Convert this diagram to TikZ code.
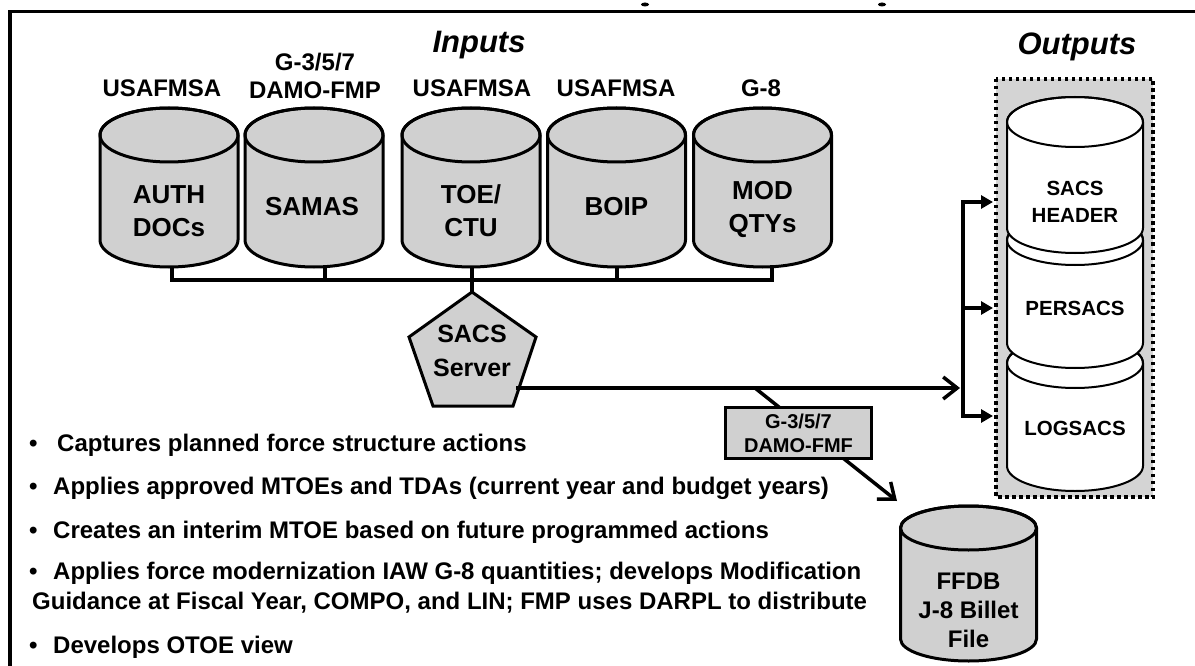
\documentclass[tikz,border=0pt]{standalone}
\usepackage{fontspec}
\setmainfont{Liberation Sans}
\usetikzlibrary{arrows.meta}
\definecolor{dbgray}{RGB}{208,208,208}
\definecolor{boxgray}{RGB}{212,212,212}
% #1 cx, #2 ytop, #3 ybot, #4 rx, #5 ry, #6 style
\newcommand\dbcyl[6]{%
  \path[#6] ({#1-#4},{#2+#5}) -- ({#1-#4},{#3-#5})
     arc[start angle=180,end angle=0,x radius=#4,y radius=#5]
     -- ({#1+#4},{#2+#5})
     arc[start angle=0,end angle=-180,x radius=#4,y radius=#5] -- cycle;
  \draw[#6,fill=none] (#1,{#2+#5}) ellipse[x radius=#4,y radius=#5];
}
\begin{document}
\begin{tikzpicture}[x=1pt,y=-1pt,
  conn/.style={line width=3.5pt, line join=miter},
  incyl/.style={draw=black, fill=dbgray, line width=3pt},
  outcyl/.style={draw=black, fill=white, line width=2pt},
  toplbl/.style={font=\fontsize{24}{28}\selectfont\bfseries, inner sep=0pt, align=center},
  cyltxt/.style={font=\fontsize{26}{33}\selectfont\bfseries, inner sep=0pt, align=center},
  outtxt/.style={font=\fontsize{20.5}{27}\selectfont\bfseries, inner sep=0pt, align=center},
  ttl/.style={font=\fontsize{31}{36}\selectfont\bfseries\itshape, inner sep=0pt, anchor=base},
  blt/.style={font=\fontsize{24}{28}\selectfont\bfseries, inner sep=0pt, anchor=base west},
  openarrow/.style={-{Straight Barb[length=14pt,width=22pt]}},
  fillarrow/.style={-{Triangle[length=12pt,width=13pt]}},
]
\useasboundingbox (0,0) rectangle (1195,666);
% frame (cropped)
\draw[line width=3.5pt, line join=miter] (10,680) -- (10,11.5) -- (1210,11.5);
\fill (645,4.5) ellipse[x radius=4, y radius=2];
\fill (882,4.5) ellipse[x radius=4, y radius=2];

% titles
\node[ttl] (inputs) at (479,53) {Inputs};
\node[ttl] (outputs) at (1077,55) {Outputs};

% source labels
\node[toplbl] (l1) at (162,88) {USAFMSA};
\node[toplbl] (l2) at (315,76) {G-3/5/7\\DAMO-FMP};
\node[toplbl] (l3) at (472,88) {USAFMSA};
\node[toplbl] (l4) at (616,88) {USAFMSA};
\node[toplbl] (l5) at (761,88) {G-8};

% input cylinders
\dbcyl{169}{108}{267}{69}{27}{incyl}
\dbcyl{314}{108}{267}{69}{27}{incyl}
\dbcyl{471}{108}{267}{69}{27}{incyl}
\dbcyl{616.5}{108}{267}{69}{27}{incyl}
\dbcyl{762.5}{108}{267}{69}{27}{incyl}
\node[cyltxt] (auth) at (169,211) {AUTH\\DOCs};
\node[cyltxt] (samas) at (312,207) {SAMAS};
\node[cyltxt] (toe) at (471,211) {TOE/\\CTU};
\node[cyltxt] (boip) at (616.5,207) {BOIP};
\node[cyltxt] (mod) at (762.5,209) {MOD\\QTYs};

\coordinate (authB) at (172,266);
\coordinate (samasB) at (325,265);
\coordinate (toeB) at (472,267);
\coordinate (boipB) at (617,267);
\coordinate (modB) at (772,265);
\coordinate (bus) at (0,280);
\coordinate (srvTop) at (472,292);

% server
\draw[line width=3pt, fill=dbgray, line join=miter] (srvTop) -- (536,337) -- (513,406) -- (433,406) -- (409,337) -- cycle;
\node[font=\fontsize{25}{34}\selectfont\bfseries, inner sep=0pt, align=center] (server) at (472,351) {SACS\\Server};

\draw[conn] (authB) -- (authB |- bus) -| (modB);
\draw[conn] (samasB) -- (samasB |- bus);
\draw[conn] (boipB) -- (boipB |- bus);
\draw[conn] (toeB) -- (srvTop);

% main flow
\coordinate (srvR) at (516,388);
\coordinate (outJoin) at (960,388);
\coordinate (split) at (755,388);
\coordinate (ffdbIn) at (897,501);
\draw[conn, openarrow] (srvR) -- (outJoin);
\draw[conn, openarrow] (split) -- (ffdbIn);
\node[draw, fill=dbgray, line width=3pt, minimum width=146pt, minimum height=51pt, inner sep=0pt,
      font=\fontsize{20}{24}\selectfont\bfseries, align=center] (fmf) at (798.5,433) {G-3/5/7\\DAMO-FMF};

% outputs box
\draw[line width=3.5pt, dash pattern=on 3.5pt off 3.5pt, fill=boxgray] (996,79) rectangle (1153,497);
\dbcyl{1075}{338}{491}{68}{25}{outcyl}
\dbcyl{1075}{215}{368}{68}{25}{outcyl}
\dbcyl{1075}{97}{253}{68}{25}{outcyl}
\node[outtxt] (hdr) at (1075,201.5) {SACS\\HEADER};
\node[outtxt] (pers) at (1075,308) {PERSACS};
\node[outtxt] (logs) at (1075,428) {LOGSACS};

\coordinate (busTop) at (963,202);
\coordinate (busBot) at (963,416);
\coordinate (hdrIn) at (993,202);
\coordinate (persIn) at (993,308);
\coordinate (logIn) at (993,416);
\draw[conn, {Triangle[length=12pt,width=13pt]}-{Triangle[length=12pt,width=13pt]}] (hdrIn) -- (busTop) -- (busBot) -- (logIn);
\draw[conn, fillarrow] (busTop |- persIn) -- (persIn);

% FFDB
\dbcyl{968.5}{506}{661}{68}{22}{incyl}
\node[font=\fontsize{24}{29}\selectfont\bfseries, inner sep=0pt, align=center] (ffdb) at (968.5,610) {FFDB\\J-8 Billet\\File};

% bullets
\node[blt] (b1) at (29,451) {\makebox[28pt][l]{\textbullet}Captures planned force structure actions};
\node[blt] (b2) at (29,494) {\makebox[24pt][l]{\textbullet}Applies approved MTOEs and TDAs (current year and budget years)};
\node[blt] (b3) at (29,538) {\makebox[24pt][l]{\textbullet}Creates an interim MTOE based on future programmed actions};
\node[blt] (b4) at (29,579) {\makebox[24pt][l]{\textbullet}Applies force modernization IAW G-8 quantities; develops Modification};
\node[blt] (b5) at (32,609) {Guidance at Fiscal Year, COMPO, and LIN; FMP uses DARPL to distribute};
\node[blt] (b6) at (29,653) {\makebox[24pt][l]{\textbullet}Develops OTOE view};
\end{tikzpicture}
\end{document}
